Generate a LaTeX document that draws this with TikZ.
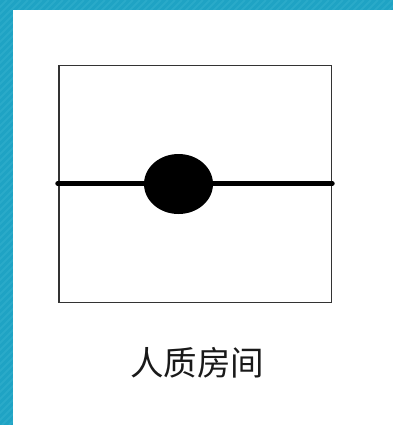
\documentclass[tikz,border=0pt]{standalone}
\usepackage{fontspec}
\newfontfamily\cjkfont{Noto Sans CJK SC}
\definecolor{teal1}{HTML}{1FA3C4}
\definecolor{teal2}{HTML}{2AAAC9}
\usetikzlibrary{shapes.geometric}
\tikzset{
  room/.style={draw=black!80,line width=1.1bp},
  wire/.style={draw=black,line width=4.4bp,line cap=round},
  blob/.style={ellipse,fill=black,minimum width=69bp,minimum height=60bp,inner sep=0pt},
  caption/.style={font=\cjkfont\fontsize{33.5bp}{36bp}\selectfont,text=black!90,inner sep=0pt},
  stripe/.style={draw=teal2,line width=2bp}
}
\begin{document}
\begin{tikzpicture}[x=1bp,y=-1bp]
\useasboundingbox (0,0) rectangle (393,425);
\fill[teal1] (0,0) rectangle (393,425);
\begin{scope}
\clip (0,0) rectangle (393,425);
\foreach \s in {0,7,...,840} {\draw[stripe] (\s,0) -- (\s-425,425);}
\end{scope}
\fill[white] (13,10) rectangle (393,425);
\node[room,minimum width=272.5bp,minimum height=237bp,inner sep=0pt] (frame) at (195.25,184) {};
\coordinate (wl) at (57.5,183.5);
\coordinate (wr) at (332.5,183.5);
\draw[wire] (wl) -- (wr);
\node[blob] (b) at (178.5,184) {};
\node[caption] (t) at (197.5,363) {人质房间};
\end{tikzpicture}
\end{document}
